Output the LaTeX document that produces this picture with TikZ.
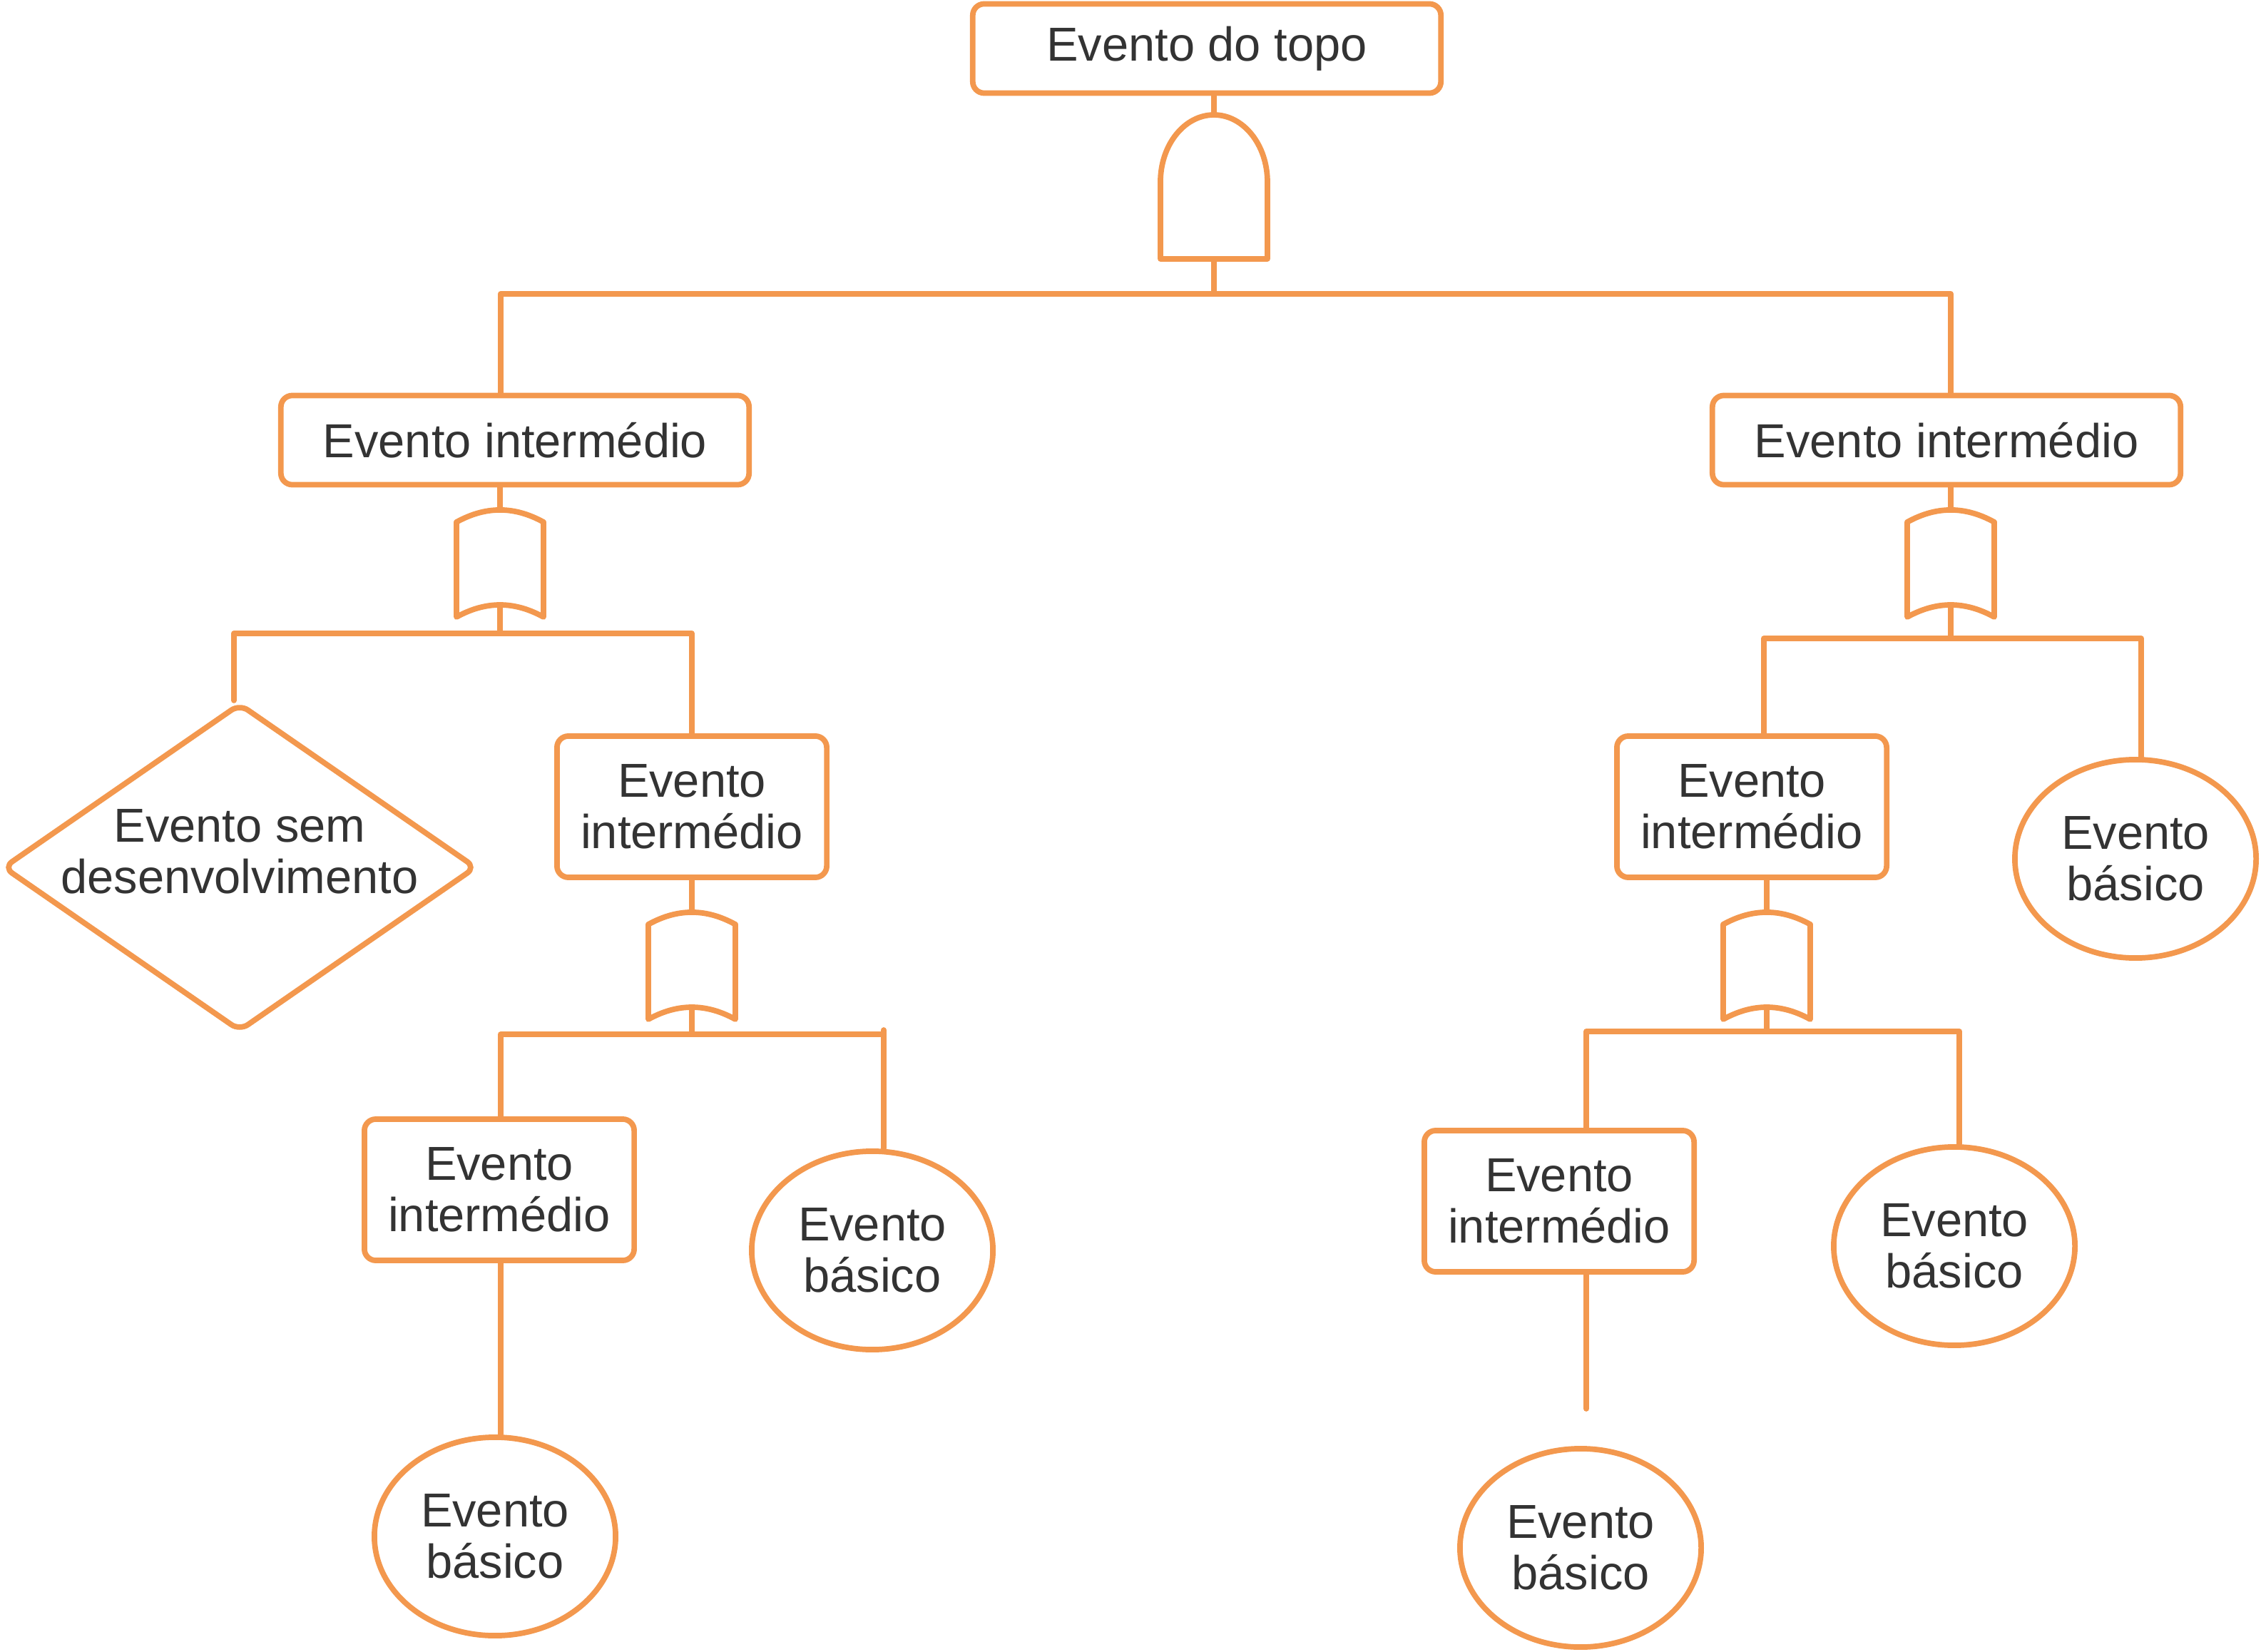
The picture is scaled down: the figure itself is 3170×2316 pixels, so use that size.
\documentclass[tikz,border=0pt]{standalone}
\usepackage{fontspec}
\setmainfont{Liberation Sans}
\usetikzlibrary{shapes.geometric,calc}
\definecolor{ftorange}{RGB}{243,152,78}
\definecolor{fttext}{RGB}{51,51,51}

\begin{document}
\begin{tikzpicture}[
    x=0.01cm, y=-0.01cm,
    wire/.style={draw=ftorange, line width=2.2pt, line cap=round, line join=round},
    txt/.style={text=fttext, font=\fontsize{19}{20.6}\selectfont, align=center},
    evbox/.style={rectangle, draw=ftorange, line width=2.2pt, rounded corners=0.16cm, inner sep=0pt, txt},
    wide/.style={evbox, minimum width=6.56cm, minimum height=1.25cm},
    narrow/.style={evbox, minimum width=3.78cm, minimum height=1.98cm},
    basic/.style={ellipse, draw=ftorange, line width=2.2pt, inner sep=0pt, minimum width=3.38cm, minimum height=2.78cm, txt},
    undev/.style={diamond, draw=ftorange, line width=2.2pt, rounded corners=0.14cm, inner sep=0pt, minimum width=6.64cm, minimum height=4.6cm},
    andgate/.style={inner sep=0pt, outer sep=0pt, minimum width=1.5cm, minimum height=2.02cm},
    orgate/.style={inner sep=0pt, outer sep=0pt, minimum width=1.22cm, minimum height=1.5cm}
]
\useasboundingbox (0,0) rectangle (3170,2316);

% Events
\node[wide] (top) at (1692,68) {Evento do topo};
\node[andgate] (and0) at (1702,262) {};
\node[wide] (ev1) at (722,617) {Evento intermédio};
\node[wide] (ev2) at (2729,617) {Evento intermédio};
\node[orgate] (or1) at (701,790) {};
\node[orgate] (or2) at (2735,790) {};
\node[undev, label={[txt, yshift=0.22cm]center:Evento sem\\desenvolvimento}] (und) at (336,1216) {};
\node[narrow] (ev3) at (970,1131) {Evento\\intermédio};
\node[narrow] (ev4) at (2456,1131) {Evento\\intermédio};
\node[basic] (bs1) at (2994,1204) {Evento\\básico};
\node[orgate] (or3) at (970,1354) {};
\node[orgate] (or4) at (2477,1354) {};
\node[narrow] (ev5) at (700,1668) {Evento\\intermédio};
\node[basic] (bs2) at (1223,1753) {Evento\\básico};
\node[narrow] (ev6) at (2186,1684) {Evento\\intermédio};
\node[basic] (bs3) at (2740,1747) {Evento\\básico};
\node[basic] (bs4) at (694,2154) {Evento\\básico};
\node[basic] (bs5) at (2216,2170) {Evento\\básico};

% Gates
\draw[wire] (and0.south west) -- ++(0,-108)
    arc[start angle=180, end angle=360, x radius=75, y radius=94]
    -- ++(0,108) -- cycle;
\foreach \g in {or1,or2,or3,or4}
  \draw[wire] ($(\g.north west)+(0,17)$) .. controls +(41,-22.7) and +(-41,-22.7) .. ($(\g.north east)+(0,17)$)
      -- (\g.south east) .. controls +(-41,-22.7) and +(41,-22.7) .. (\g.south west) -- cycle;

% Bars
\coordinate (b0l) at (702,412);
\coordinate (b0r) at (2735,412);
\coordinate (b1l) at (328,888);
\coordinate (b1r) at (970,888);
\coordinate (b2l) at (2473,895);
\coordinate (b2r) at (3002,895);
\coordinate (b3l) at (702,1450);
\coordinate (b3r) at (1239,1450);
\coordinate (b4l) at (2224,1446);
\coordinate (b4r) at (2747,1446);
\coordinate (free) at (2224,1975);

% Connectors
\draw[wire] (top.south -| and0.north) -- (and0.north);
\draw[wire] (and0.south) -- (and0.south |- b0l);
\draw[wire] (ev1.north -| b0l) -- (b0l) -- (b0r) -- (ev2.north -| b0r);

\draw[wire] (ev1.south -| or1.north) -- (or1.north);
\draw[wire] ($(or1.south)+(0,-17)$) -- (or1.south |- b1l);
\draw[wire] (und.north -| b1l) -- (b1l) -- (b1r) -- (ev3.north -| b1r);

\draw[wire] (ev2.south -| or2.north) -- (or2.north);
\draw[wire] ($(or2.south)+(0,-17)$) -- (or2.south |- b2l);
\draw[wire] (ev4.north -| b2l) -- (b2l) -- (b2r) -- (bs1.north -| b2r);

\draw[wire] (ev3.south -| or3.north) -- (or3.north);
\draw[wire] ($(or3.south)+(0,-17)$) -- (or3.south |- b3l);
\draw[wire] (ev5.north -| b3l) -- (b3l) -- (b3r);
\draw[wire] ($(b3r)+(0,-6)$) -- (bs2.north -| b3r);
\draw[wire] (ev5.south -| b3l) -- (bs4.north -| b3l);

\draw[wire] (ev4.south -| or4.north) -- (or4.north);
\draw[wire] ($(or4.south)+(0,-17)$) -- (or4.south |- b4l);
\draw[wire] (ev6.north -| b4l) -- (b4l) -- (b4r) -- (bs3.north -| b4r);
\draw[wire] (ev6.south -| free) -- (free);

\end{tikzpicture}
\end{document}
